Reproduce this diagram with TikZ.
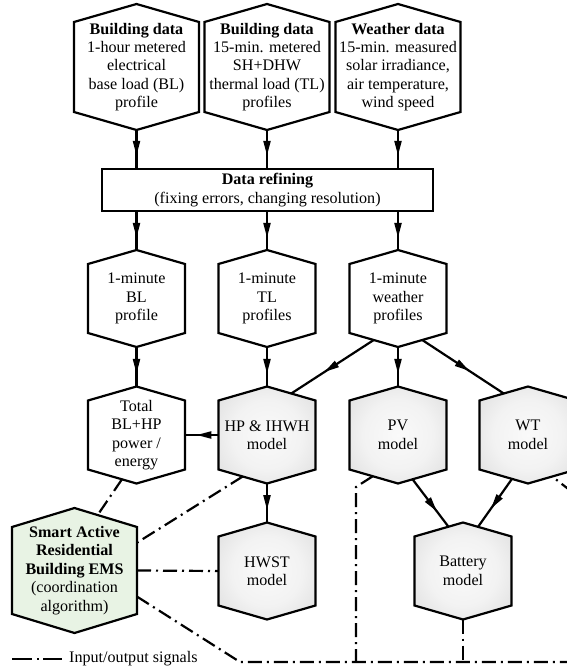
\documentclass[tikz,border=0pt]{standalone}
\usepackage{fontspec}
\setmainfont{Liberation Serif}
\usetikzlibrary{calc,arrows.meta,decorations.markings}

\definecolor{emsgreen}{RGB}{232,243,228}

% soft grey glow for the model blocks
\pgfdeclareradialshading{modelglow}{\pgfpoint{0bp}{0bp}}{%
  color(0bp)=(black!2); color(18bp)=(black!5); color(48bp)=(black!19); color(72bp)=(black!24)}

\tikzset{
  hexline/.style={draw, line width=2.2pt, line join=miter},
  plainhex/.style={hexline, fill=white},
  modelhex/.style={hexline, shade, shading=modelglow},
  emshex/.style={hexline, fill=emsgreen},
  txt/.style={align=center, inner sep=0pt, font=\fontsize{16.1}{18.4}\selectfont},
  boxnode/.style={txt, draw, line width=2.2pt, minimum width=331pt, minimum height=42pt},
  flow/.style={line width=2.2pt, postaction={decorate},
    decoration={markings, mark=at position #1 with {\arrow{Triangle[length=15pt,width=7pt]}}}},
  flow/.default=0.68,
  signal/.style={line width=2.2pt, dash pattern=on 14pt off 5pt on 2pt off 5pt},
  legendsignal/.style={line width=2.2pt, dash pattern=on 20pt off 5pt on 2pt off 4pt},
}

% \hexa{name}{x}{y}{half width}{half side}{tip}{style}{text}
\newcommand\hexa[8]{%
  \path[#7] (#2-#4,#3-#5) -- (#2,#3-#5-#6) -- (#2+#4,#3-#5) -- (#2+#4,#3+#5)
    -- (#2,#3+#5+#6) -- (#2-#4,#3+#5) -- cycle;
  \node[txt] (#1) at (#2,#3) {#8};
  \coordinate (#1-t) at (#2,#3-#5-#6);
  \coordinate (#1-b) at (#2,#3+#5+#6);
  \coordinate (#1-nw) at (#2-#4,#3-#5);
  \coordinate (#1-ne) at (#2+#4,#3-#5);
  \coordinate (#1-sw) at (#2-#4,#3+#5);
  \coordinate (#1-se) at (#2+#4,#3+#5);
  \coordinate (#1-w) at (#2-#4,#3);
  \coordinate (#1-e) at (#2+#4,#3);
}

\begin{document}
\begin{tikzpicture}[x=1pt,y=-1pt]
\useasboundingbox (0,0) rectangle (567,669);

% source data
\hexa{srcbl}{136.5}{67}{62.5}{45}{18}{plainhex}{\textbf{Building data}\\1-hour metered\\electrical\\base load (BL)\\profile}
\hexa{srctl}{267}{67}{62.5}{45}{18}{plainhex}{\textbf{Building data}\\15-min. metered\\SH+DHW\\thermal load (TL)\\profiles}
\hexa{srcw}{398}{67}{62.5}{45}{18}{plainhex}{\textbf{Weather data}\\15-min. measured\\solar irradiance,\\air temperature,\\wind speed}

% refining step
\node[boxnode] (refine) at (267.5,190) {\textbf{Data refining}\\(fixing errors, changing resolution)};

% refined profiles
\hexa{minbl}{136.5}{298.5}{48.5}{34.5}{14}{plainhex}{1-minute\\BL\\profile}
\hexa{mintl}{267}{298.5}{48.5}{34.5}{14}{plainhex}{1-minute\\TL\\profiles}
\hexa{minw}{398}{298.5}{48.5}{34.5}{14}{plainhex}{1-minute\\weather\\profiles}

% models
\hexa{total}{136.5}{435}{48.5}{34.5}{14}{plainhex}{Total\\BL+HP\\power /\\energy}
\hexa{hp}{267}{435}{48.5}{34.5}{14}{modelhex}{HP \& IHWH\\model}
\hexa{pv}{398}{435}{48.5}{34.5}{14}{modelhex}{PV\\model}
\hexa{wt}{528}{435}{48.5}{34.5}{14}{modelhex}{WT\\model}
\hexa{hwst}{267}{571}{48.5}{34.5}{14}{modelhex}{HWST\\model}
\hexa{bat}{463}{571}{48.5}{34.5}{14}{modelhex}{Battery\\model}

% energy management system
\hexa{ems}{74.5}{570.5}{62.5}{43.5}{19}{emshex}{\textbf{Smart Active}\\\textbf{Residential}\\\textbf{Building EMS}\\(coordination\\algorithm)}

% data flow
\draw[flow] (srcbl-b) -- (srcbl-b |- refine.north);
\draw[flow] (srctl-b) -- (srctl-b |- refine.north);
\draw[flow] (srcw-b) -- (srcw-b |- refine.north);
\draw[flow] (refine.south -| minbl-t) -- (minbl-t);
\draw[flow] (refine.south -| mintl-t) -- (mintl-t);
\draw[flow] (refine.south -| minw-t) -- (minw-t);
\draw[flow] (minbl-b) -- (total-t);
\draw[flow] (mintl-b) -- (hp-t);
\draw[flow] (minw-b) -- (pv-t);
\draw[flow=0.6] ($(minw-sw)!.5!(minw-b)$) -- ($(hp-t)!.5!(hp-ne)$);
\draw[flow=0.58] ($(minw-b)!.5!(minw-se)$) -- ($(wt-nw)!.5!(wt-t)$);
\draw[flow=0.66] (hp-w) -- (total-e);
\draw[flow] (hp-b) -- (hwst-t);
\draw[flow=0.68] ($(pv-b)!.3!(pv-se)$) -- ($(bat-nw)!.7!(bat-t)$);
\draw[flow=0.62] ($(wt-sw)!.67!(wt-b)$) -- ($(bat-t)!.31!(bat-ne)$);

% input/output signals
\coordinate (busl) at (240,662);
\coordinate (busr) at (590,662);
\coordinate (wtdrop) at (590,506);
\coordinate (pvknee) at (356,487);
\draw[signal] ($(total-sw)!.7!(total-b)$) -- ($(ems-t)!.37!(ems-ne)$);
\draw[signal] ($(hp-sw)!.5!(hp-b)$) -- ($(ems-ne)!.18!(ems-se)$);
\draw[signal] (ems-e) -- (hwst-w);
\draw[signal] ($(ems-ne)!.8!(ems-se)$) -- (busl) -- (busr) -- (wtdrop) -- ($(wt-b)!.5!(wt-se)$);
\draw[signal] ($(pv-sw)!.48!(pv-b)$) -- (pvknee) -- (pvknee |- busl);
\draw[signal] (bat-b) -- (bat-b |- busl);

% legend
\coordinate (lgstart) at (12,659);
\coordinate (lgend) at (62,659);
\draw[legendsignal] (lgstart) -- (lgend);
\node[txt, anchor=west] (lgtext) at (69,659) {Input/output signals};
\end{tikzpicture}
\end{document}
